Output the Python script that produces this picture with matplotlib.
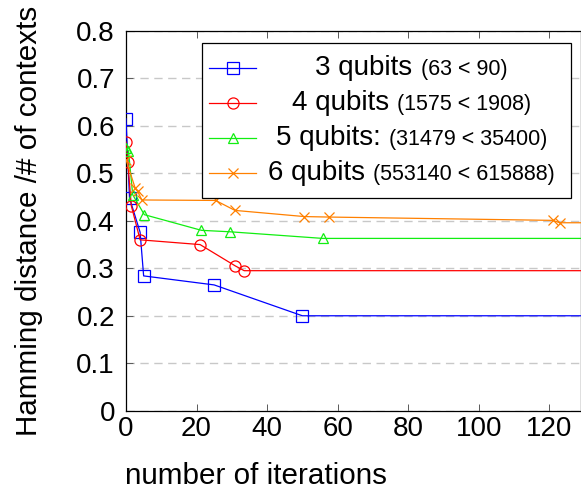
import matplotlib
matplotlib.use("Agg")
import matplotlib.pyplot as plt
from matplotlib.lines import Line2D
from matplotlib.offsetbox import AnchoredOffsetbox, DrawingArea, HPacker, VPacker, TextArea

plt.rcParams['font.family'] = ['Liberation Sans', 'DejaVu Sans']

# iterations / hamming distance per number of contexts (last point: run continues flat)
it3 = [0, 1, 4, 5, 25, 50, 140]
hd3 = [0.615, 0.448, 0.376, 0.284, 0.265, 0.200, 0.200]

it4 = [0, 0.5, 1.5, 4, 21, 31, 33.5, 140]
hd4 = [0.566, 0.524, 0.432, 0.360, 0.350, 0.305, 0.295, 0.295]

it5 = [0, 0.7, 1.9, 5.2, 21.4, 29.4, 55.8, 140]
hd5 = [0.553, 0.548, 0.455, 0.413, 0.380, 0.377, 0.363, 0.363]

it6 = [0, 2.6, 3.3, 4.5, 25.4, 30.9, 50.6, 57.6, 121, 123, 140]
hd6 = [0.529, 0.469, 0.462, 0.444, 0.443, 0.422, 0.409, 0.408, 0.401, 0.396, 0.396]

names = ["3 qubits", "4 qubits", "5 qubits:", "6 qubits"]
extras = ["(63 < 90)", "(1575 < 1908)", "(31479 < 35400)", "(553140 < 615888)"]
colors = ["#0000ff", "#ff0000", "#11ee11", "#ff8000"]
markers = ["s", "o", "^", "x"]
msizes = [8, 8, 7.5, 6.5]

fig = plt.figure(figsize=(5.81, 4.90), dpi=100)
ax = fig.add_axes([126/581, 1 - 410.7/490, 1 - 126/581, (410.7 - 31)/490])

series = [(it3, hd3), (it4, hd4), (it5, hd5), (it6, hd6)]
for (xs, ys), c, m, ms in zip(series, colors, markers, msizes):
    ax.plot(xs, ys, color=c, lw=0.9, marker=m, ms=ms, mfc='none', mew=0.9,
            markevery=list(range(len(xs) - 1)), zorder=3)

ax.set_xlim(0, 129)
ax.set_ylim(0, 0.8)
ax.set_xticks([0, 20, 40, 60, 80, 100, 120])
ax.set_yticks([0, 0.1, 0.2, 0.3, 0.4, 0.5, 0.6, 0.7, 0.8])
ax.set_yticklabels(["0", "0.1", "0.2", "0.3", "0.4", "0.5", "0.6", "0.7", "0.8"])
ax.tick_params(axis='both', direction='in', labelsize=20, length=5, width=0.7, color='0.35')
ax.tick_params(axis='x', top=True, pad=4)
ax.tick_params(axis='y', pad=8)
ax.yaxis.grid(True, color='#c8c8c8', lw=1.0, linestyle=(0, (6, 4)))
ax.set_axisbelow(True)
for s in ax.spines.values():
    s.set_linewidth(0.9)

ax.set_xlabel("number of iterations", fontsize=21.3)
ax.xaxis.set_label_coords(0.285, -0.172)
ax.xaxis.label.set_va('center')
ax.set_ylabel("Hamming distance /# of contexts", fontsize=21.3)
ax.yaxis.set_label_coords(-0.213, 0.5)
ax.yaxis.label.set_va('center')

# legend with big name + small count, centred in the text column
rows = []
for n, e, c, m, ms in zip(names, extras, colors, markers, msizes):
    da = DrawingArea(34, 25.4, 0, 0)
    da.add_artist(Line2D([0, 34], [12.7, 12.7], color=c, lw=0.9))
    da.add_artist(Line2D([17], [12.7], color=c, marker=m, ms=ms, mfc='none', mew=0.9))
    txt = HPacker(children=[TextArea(n, textprops=dict(fontsize=20)),
                            TextArea(e, textprops=dict(fontsize=15.5))],
                  align="baseline", pad=0, sep=6)
    cell = VPacker(children=[txt], align="center", width=305, pad=0, sep=0)
    rows.append(HPacker(children=[da, cell], align="center", pad=0, sep=2))
box = VPacker(children=rows, align="left", pad=0, sep=0)
leg = AnchoredOffsetbox(loc='upper left', child=box, pad=0.5, borderpad=0, frameon=True,
                        prop=dict(size=10),
                        bbox_to_anchor=(202/581, 1 - 43/490), bbox_transform=fig.transFigure)
leg.patch.set_edgecolor('black')
leg.patch.set_linewidth(0.9)
leg.set_zorder(5)
ax.add_artist(leg)

fig.savefig("out.png", dpi=100)
